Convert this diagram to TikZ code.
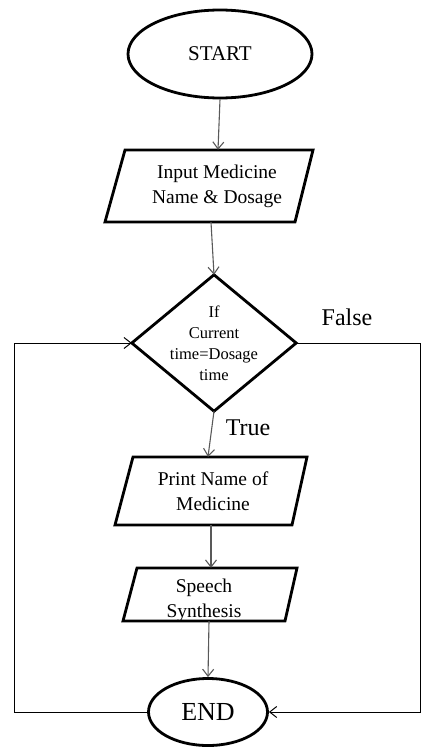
\documentclass[tikz,border=0pt]{standalone}
\usepackage{fontspec}
\setmainfont{Liberation Serif}
\usetikzlibrary{shapes.geometric,arrows.meta}
\begin{document}
\begin{tikzpicture}[x=1pt,y=-1pt,
  shp/.style={draw=black,line width=2.8pt,line join=miter},
  term/.style={ellipse,draw=black,line width=2.8pt,inner sep=0pt},
  txt/.style={align=center,inner sep=0pt,font=\fontsize{19.5}{25}\selectfont},
  tip/.style={-{Straight Barb[length=7pt,width=11pt]}},
  conn/.style={draw=black!65,line width=1.1pt,tip},
  loopl/.style={draw=black,line width=1pt,tip},
  lab/.style={font=\fontsize{24}{28}\selectfont,inner sep=0pt}]
\useasboundingbox (0,0) rectangle (422,747);

% terminals
\node[term,minimum width=184pt,minimum height=88pt,font=\fontsize{21}{25}\selectfont] (start) at (220,54) {START};
\node[term,minimum width=119pt,minimum height=67pt,font=\fontsize{26}{30}\selectfont] (end) at (208,712) {END};

% input
\node[txt,minimum height=72pt] (inp) at (217,186) {Input Medicine\\Name \& Dosage};
\draw[shp] (125,150) -- (313,150) -- (295,222) -- (105,222) -- cycle;

% decision
\node[minimum width=164pt,minimum height=136pt,inner sep=0pt,align=center,font=\fontsize{16.5}{21}\selectfont] (dia) at (214,343) {If\\Current\\time=Dosage\\time};
\draw[shp] (dia.north) -- (dia.east) -- (dia.south) -- (dia.west) -- cycle;

% print
\node[txt,minimum height=68pt] (prn) at (213,491) {Print Name of\\Medicine};
\draw[shp] (133,457) -- (307,457) -- (292,525) -- (115,525) -- cycle;

% speech
\node[txt,minimum height=53pt] (sp) at (204,600) {Speech\\Synthesis};
\draw[shp] (137,568) -- (297,568) -- (285,621) -- (123,621) -- cycle;

% labels
\node[lab] (lfalse) at (347,317) {False};
\node[lab] (ltrue) at (248,428) {True};

% connectors
\draw[conn] (start.south) -- ([xshift=1pt]inp.north);
\draw[conn] ([xshift=-6pt]inp.south) -- (dia.north);
\draw[conn] (dia.south) -- ([xshift=-5pt]prn.north);
\draw[conn] ([xshift=-2pt]prn.south) -- ([xshift=7pt,yshift=5.5pt]sp.north);
\draw[conn] ([xshift=5pt,yshift=5.5pt]sp.south) -- (end.north);

% loops
\coordinate (lbot) at (14,712);
\coordinate (ltop) at (14,343);
\coordinate (rtop) at (420.5,343);
\coordinate (rbot) at (420.5,712);
\draw[loopl] (end.west) -- (lbot) -- (ltop) -- (dia.west);
\draw[loopl] (dia.east) -- (rtop) -- (rbot) -- (end.east);
\end{tikzpicture}
\end{document}
